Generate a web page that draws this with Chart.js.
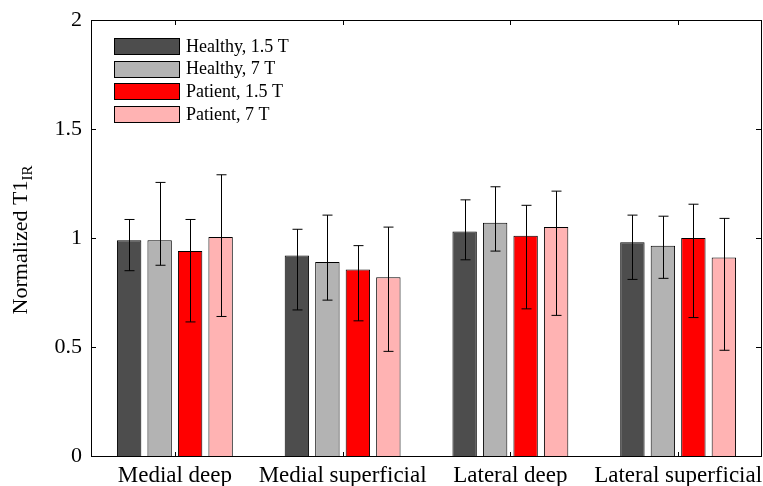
<!DOCTYPE html>
<html>
<head>
<meta charset="utf-8">
<script src="https://cdn.jsdelivr.net/npm/chart.js@4"></script>
<style>
  body { margin: 0; background: #fff; }
</style>
</head>
<body>
<canvas id="myBarChart" width="763" height="486"></canvas>
<script>
// categories and tick labels
const regions = ['Medial deep', 'Medial superficial', 'Lateral deep', 'Lateral superficial'];
const yTicks = [0, 0.5, 1, 1.5, 2];

// mean values
const healthy15 = [0.99, 0.92, 1.03, 0.98];
const healthy7 = [0.99, 0.89, 1.07, 0.965];
const patient15 = [0.94, 0.855, 1.01, 1.00];
const patient7 = [1.005, 0.82, 1.05, 0.91];

// error bar ends (upper / lower)
const healthy15Hi = [1.085, 1.04, 1.175, 1.105];
const healthy15Lo = [0.85, 0.67, 0.90, 0.81];
const healthy7Hi = [1.255, 1.105, 1.235, 1.10];
const healthy7Lo = [0.875, 0.715, 0.94, 0.815];
const patient15Hi = [1.085, 0.965, 1.15, 1.155];
const patient15Lo = [0.615, 0.62, 0.675, 0.635];
const patient7Hi = [1.29, 1.05, 1.215, 1.09];
const patient7Lo = [0.64, 0.48, 0.645, 0.485];

const serif = '"Liberation Serif", "Times New Roman", serif';

const ctx = document.getElementById('myBarChart').getContext('2d');

function makeSet(label, values, hi, lo, color) {
  return {
    label: label,
    data: values,
    errHi: hi,
    errLo: lo,
    backgroundColor: color,
    borderColor: '#000',
    borderWidth: 1,
    categoryPercentage: 0.727,
    barPercentage: 0.8
  };
}

// error bars, drawn from the y scale
const errorBars = {
  id: 'errorBars',
  afterDatasetsDraw(chart) {
    const c = chart.ctx;
    const y = chart.scales.y;
    c.save();
    c.strokeStyle = '#000';
    c.lineWidth = 1;
    chart.data.datasets.forEach((ds, i) => {
      chart.getDatasetMeta(i).data.forEach((bar, j) => {
        const x = Math.round(bar.x) + 0.5;
        const top = y.getPixelForValue(ds.errHi[j]);
        const bot = y.getPixelForValue(ds.errLo[j]);
        c.beginPath();
        c.moveTo(x, top); c.lineTo(x, bot);
        c.moveTo(x - 5, top); c.lineTo(x + 5, top);
        c.moveTo(x - 5, bot); c.lineTo(x + 5, bot);
        c.stroke();
      });
    });
    c.restore();
  }
};

// box around the plot, inward ticks, legend and y title
const frame = {
  id: 'frame',
  afterDraw(chart) {
    const c = chart.ctx;
    const a = chart.chartArea;
    const x = chart.scales.x, y = chart.scales.y;
    c.save();
    c.strokeStyle = '#000';
    c.lineWidth = 1;
    c.strokeRect(Math.round(a.left) + 0.5, Math.round(a.top) + 0.5,
      Math.round(a.right - a.left) - 1, Math.round(a.bottom - a.top));
    c.beginPath();
    y.ticks.forEach(t => {
      const py = Math.round(y.getPixelForValue(t.value)) + 0.5;
      c.moveTo(a.left, py); c.lineTo(a.left + 5, py);
      c.moveTo(a.right - 1, py); c.lineTo(a.right - 6, py);
    });
    regions.forEach((r, i) => {
      const px = Math.round(x.getPixelForValue(i)) + 0.5;
      c.moveTo(px, a.bottom); c.lineTo(px, a.bottom - 4);
      c.moveTo(px, a.top); c.lineTo(px, a.top + 5);
    });
    c.stroke();

    // legend
    c.font = '18px ' + serif;
    c.textBaseline = 'middle';
    c.fillStyle = '#000';
    chart.data.datasets.forEach((ds, i) => {
      const cy = 46 + i * 22.7;
      const bx = a.left + 23;
      c.fillStyle = ds.backgroundColor;
      c.fillRect(bx, Math.round(cy - 8), 65, 16);
      c.strokeStyle = '#000';
      c.strokeRect(bx + 0.5, Math.round(cy - 8) + 0.5, 65, 16);
      c.fillStyle = '#000';
      c.fillText(ds.label, bx + 72, cy + 1);
    });

    // y title with subscript
    const main = 'Normalized T1';
    const sub = 'IR';
    c.font = '22px ' + serif;
    const w1 = c.measureText(main).width;
    c.font = '15px ' + serif;
    const w2 = c.measureText(sub).width;
    const total = w1 + w2;
    c.translate(27, (a.top + a.bottom) / 2 + total / 2 + 2);
    c.rotate(-Math.PI / 2);
    c.textBaseline = 'alphabetic';
    c.textAlign = 'left';
    c.font = '22px ' + serif;
    c.fillText(main, 0, 0);
    c.font = '15px ' + serif;
    c.fillText(sub, w1, 5);
    c.restore();
  }
};

const config = {
  type: 'bar',
  data: {
    labels: regions,
    datasets: [
      makeSet('Healthy, 1.5 T', healthy15, healthy15Hi, healthy15Lo, '#4d4d4d'),
      makeSet('Healthy, 7 T', healthy7, healthy7Hi, healthy7Lo, '#b3b3b3'),
      makeSet('Patient, 1.5 T', patient15, patient15Hi, patient15Lo, '#ff0000'),
      makeSet('Patient, 7 T', patient7, patient7Hi, patient7Lo, '#ffb3b3')
    ]
  },
  options: {
    responsive: false,
    animation: false,
    layout: { padding: { top: 20, right: 1, left: 0, bottom: 0 } },
    plugins: {
      legend: { display: false },
      tooltip: { enabled: false }
    },
    scales: {
      x: {
        grid: { display: false, drawTicks: false },
        border: { display: false },
        ticks: {
          color: '#000',
          font: { family: serif, size: 23 },
          padding: 6,
          maxRotation: 0,
          autoSkip: false
        },
        afterFit(scale) {
          scale.height = 30;
          scale.paddingLeft = 0;
          scale.paddingRight = 0;
        }
      },
      y: {
        min: 0,
        max: 2,
        afterBuildTicks(scale) {
          scale.ticks = yTicks.map(v => ({ value: v }));
        },
        grid: { display: false, drawTicks: false },
        border: { display: false },
        ticks: {
          color: '#000',
          font: { family: serif, size: 22 },
          padding: 9,
          callback: v => String(v)
        },
        afterFit(scale) {
          scale.width = 91;
          scale.paddingTop = 0;
          scale.paddingBottom = 0;
        }
      }
    }
  },
  plugins: [errorBars, frame]
};

new Chart(ctx, config);
</script>
</body>
</html>
